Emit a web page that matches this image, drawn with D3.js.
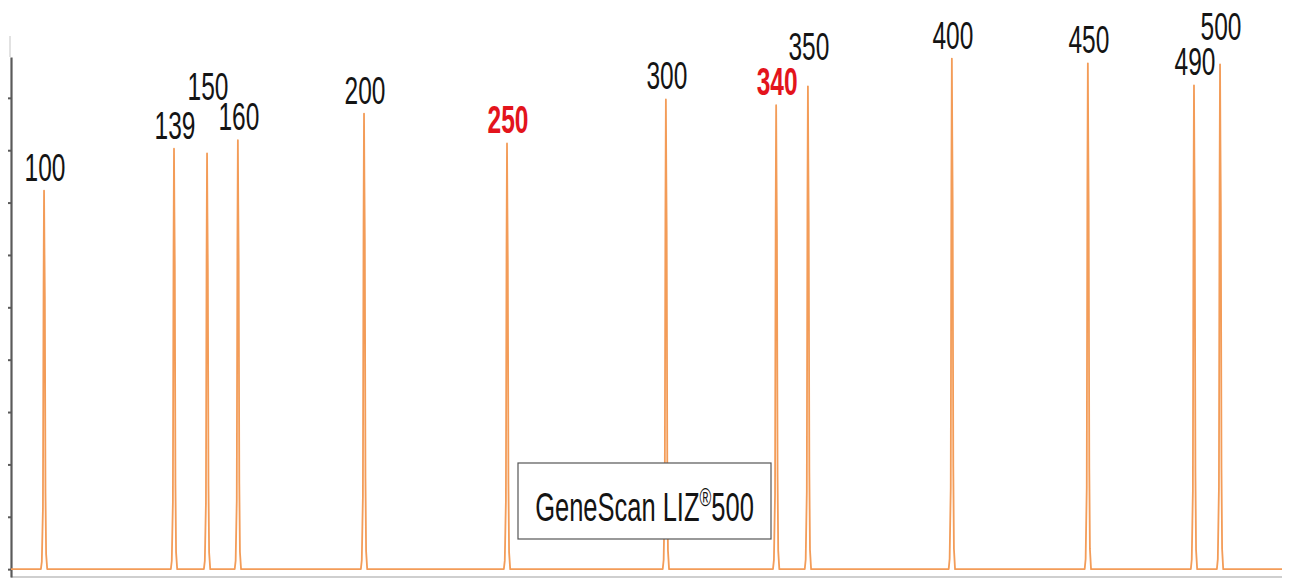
<!DOCTYPE html>
<html>
<head>
<meta charset="utf-8">
<script src="https://cdn.jsdelivr.net/npm/d3@7"></script>
<style>
  html, body { margin: 0; padding: 0; background: #fff; }
  svg { display: block; }
  text { font-family: "Liberation Sans", Arial, sans-serif; }
</style>
</head>
<body>
<svg id="chart" width="1292" height="578"></svg>
<script>
// Fragment sizes (bp) of the size standard, their scan positions and peak heights (RFU)
const sizes = [100, 139, 150, 160, 200, 250, 300, 340, 350, 400, 450, 490, 500];
const scanPoints = [1904, 2313, 2417, 2514, 2911, 3361, 3861, 4208, 4308, 4761, 5189, 5523, 5605];
const heights = [7230, 8030, 7940, 8190, 8700, 8130, 8970, 8860, 9220, 9750, 9660, 9240, 9640];

// Fragments called out in red, and labels lifted above their crowded neighbours
const highlighted = [250, 340];
const raisedLabels = [150, 350, 500];

// Unlabelled RFU ticks on the left axis
const yTicks = [0, 1000, 2000, 3000, 4000, 5000, 6000, 7000, 8000, 9000];

const standardName = "GeneScan LIZ";
const standardMark = "®";
const standardSuffix = "500";

// Shape of one electropherogram peak: scan offset and fraction of peak height
const peakShape = [
  [-10, 0], [-7, 0.02], [-5, 0.1], [-3.5, 0.16], [-1.5, 0.75], [0, 1],
  [1.2, 0.85], [2.5, 0.72], [4.5, 0.2], [6.5, 0.04], [10, 0]
];

const svg = d3.select("#chart");

const x = d3.scaleLinear().domain([1800, 5800]).range([11, 1282]);
const y = d3.scaleLinear().domain([-150, 9780]).range([577, 57]);

const orange = "#f39c58";
const textScaleY = 1.62;

// faint frame line above the axis
svg.append("line")
  .attr("x1", 10).attr("x2", 10)
  .attr("y1", 36).attr("y2", 57)
  .attr("stroke", "#d8d8d8").attr("stroke-width", 1.5);

// bottom frame line
svg.append("line")
  .attr("x1", x(1800)).attr("x2", x(5800))
  .attr("y1", y(-150)).attr("y2", y(-150))
  .attr("stroke", "#cfcfcf").attr("stroke-width", 2);

// left axis
const yAxis = d3.axisLeft(y)
  .tickValues(yTicks)
  .tickSize(3)
  .tickSizeOuter(0)
  .tickFormat("");

const axisG = svg.append("g")
  .attr("transform", `translate(${x(1800)},0)`)
  .call(yAxis);
axisG.select(".domain").attr("stroke", "#5a5a5a").attr("stroke-width", 2.2);
axisG.selectAll(".tick line").attr("stroke", "#5a5a5a").attr("stroke-width", 2);

// build the trace: flat baseline with a peak at every fragment
const peaks = sizes.map((s, i) => ({ size: s, scan: scanPoints[i], rfu: heights[i] }));
const trace = [[1800, 0]];
peaks.forEach(p => {
  peakShape.forEach(([dx, f]) => trace.push([p.scan + dx, p.rfu * f]));
});
trace.push([5800, 0]);

const line = d3.line()
  .x(d => x(d[0]))
  .y(d => y(d[1]));

svg.append("path")
  .datum(trace)
  .attr("d", line)
  .attr("fill", "none")
  .attr("stroke", orange)
  .attr("stroke-width", 1.8)
  .attr("stroke-linejoin", "round");

// peak labels: sit just above each peak; crowded ones are lifted over their neighbours
const capH = 29;
const gap = 10;
const baseY = peaks.map(p => y(p.rfu) - gap);
const labelY = peaks.map((p, i) => {
  if (!raisedLabels.includes(p.size)) return baseY[i];
  const near = peaks
    .map((q, j) => ({ j, d: Math.abs(x(q.scan) - x(p.scan)) }))
    .filter(o => o.j !== i && o.d < 45 && !raisedLabels.includes(peaks[o.j].size))
    .map(o => baseY[o.j]);
  return Math.min(Math.max(...near) - capH - 6, Math.min(...near) - capH - 1);
});

const labels = svg.append("g").selectAll("g")
  .data(peaks)
  .join("g")
  .attr("transform", (p, i) => `translate(${x(p.scan) + 1},${labelY[i]}) scale(1,${textScaleY})`);

labels.append("text")
  .attr("text-anchor", "middle")
  .attr("font-size", 24.5)
  .attr("font-weight", p => highlighted.includes(p.size) ? "bold" : "normal")
  .attr("fill", p => highlighted.includes(p.size) ? "#e3141c" : "#141414")
  .text(p => p.size);

// size-standard legend box
const box = { x: 518, y: 463, w: 253, h: 76 };
svg.append("rect")
  .attr("x", box.x).attr("y", box.y)
  .attr("width", box.w).attr("height", box.h)
  .attr("fill", "#fff")
  .attr("stroke", "#555").attr("stroke-width", 1.2);

const legendText = svg.append("g")
  .attr("transform", `translate(${box.x + box.w / 2},${box.y + 58}) scale(1,${textScaleY})`)
  .append("text")
  .attr("text-anchor", "middle")
  .attr("font-size", 25.5)
  .attr("fill", "#141414");
legendText.append("tspan").text(standardName);
legendText.append("tspan").attr("font-size", 16).attr("dy", -9).text(standardMark);
legendText.append("tspan").attr("dy", 9).text(standardSuffix);
</script>
</body>
</html>
